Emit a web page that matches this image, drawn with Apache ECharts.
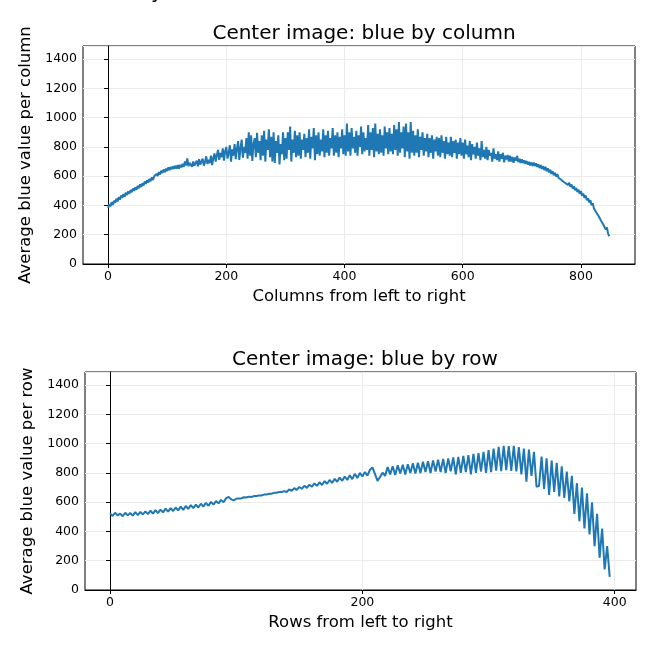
<!DOCTYPE html>
<html lang="en">
<head>
  <meta charset="UTF-8">
  <title>Center image: blue</title>
  <script src="https://cdn.jsdelivr.net/npm/echarts@6/dist/echarts.min.js"></script>
  <style>
    html, body { margin: 0; padding: 0; background: #fff; }
  </style>
</head>
<body>
<div id="chart" style="width: 656px;height: 654px;"></div>

<script>
  // average blue per column, read every 2 columns (0..848)
  const colStep = 2;
  const colValues = [
    382, 408, 394, 422, 404, 432, 418, 446, 428, 456,
    440, 468, 452, 478, 460, 488, 472, 496, 480, 506,
    490, 516, 500, 524, 508, 534, 518, 544, 526, 552,
    536, 564, 548, 572, 556, 582, 566, 592, 574, 600,
    592, 616, 602, 628, 612, 638, 622, 646, 628, 652,
    636, 660, 642, 664, 648, 668, 650, 672, 652, 676,
    652, 678, 660, 684, 664, 700, 674, 722, 668, 692,
    692, 664, 700, 672, 684, 706, 668, 716, 680, 698,
    720, 672, 698, 736, 684, 712, 690, 740, 676, 724,
    756, 700, 744, 780, 712, 760, 730, 790, 706, 770,
    800, 720, 760, 812, 700, 784, 740, 820, 716, 790,
    840, 712, 790, 850, 726, 800, 760, 860, 720, 900,
    740, 880, 704, 820, 860, 730, 896, 760, 840, 710,
    880, 740, 910, 700, 850, 780, 920, 730, 870, 700,
    900, 690, 840, 760, 880, 680, 820, 750, 900, 710,
    860, 720, 900, 780, 940, 700, 850, 760, 910, 730,
    880, 740, 900, 720, 850, 780, 890, 730, 860, 760,
    920, 720, 870, 790, 930, 710, 880, 750, 900, 740,
    850, 770, 920, 730, 880, 760, 910, 740, 860, 790,
    930, 740, 880, 760, 900, 730, 870, 790, 920, 750,
    880, 740, 960, 770, 900, 740, 930, 790, 870, 760,
    910, 740, 880, 800, 940, 750, 900, 770, 860, 780,
    950, 740, 900, 780, 930, 730, 960, 770, 890, 750,
    920, 760, 880, 740, 940, 790, 900, 750, 930, 770,
    890, 750, 950, 780, 920, 740, 970, 760, 900, 790,
    940, 730, 960, 770, 900, 720, 970, 760, 910, 740,
    880, 760, 920, 730, 870, 780, 900, 740, 860, 770,
    890, 730, 860, 760, 880, 720, 850, 770, 870, 740,
    860, 730, 880, 760, 840, 720, 870, 750, 830, 740,
    870, 730, 840, 760, 850, 720, 830, 750, 860, 740,
    830, 720, 850, 750, 810, 730, 840, 710, 820, 750,
    800, 720, 830, 740, 790, 710, 840, 730, 780, 720,
    800, 710, 780, 740, 760, 700, 790, 720, 750, 710,
    770, 700, 750, 720, 760, 695, 740, 715, 745, 700,
    740, 700, 732, 692, 728, 706, 738, 696, 720, 690,
    716, 690, 708, 684, 704, 680, 698, 674, 694, 670,
    694, 670, 688, 664, 682, 656, 676, 650, 668, 642,
    664, 634, 654, 626, 644, 616, 634, 606, 624, 598,
    614, 590, 600, 578, 590, 564, 574, 552, 564, 540,
    556, 528, 544, 516, 532, 504, 520, 492, 508, 480,
    498, 466, 482, 452, 468, 436, 450, 420, 436, 402,
    416, 380, 390, 352, 364, 326, 338, 296, 308, 268,
    280, 236, 250, 206, 190
  ];

  // average blue per row, read every 2 rows (0..396)
  const rowStep = 2;
  const rowValues = [
    524, 506, 528, 510, 522, 504, 528, 510, 526, 508,
    532, 512, 534, 516, 538, 518, 542, 522, 546, 526,
    550, 530, 556, 536, 560, 540, 564, 544, 570, 548,
    574, 554, 580, 560, 584, 564, 590, 570, 596, 576,
    602, 584, 608, 592, 616, 600, 628, 636, 620, 612,
    624, 626, 626, 634, 632, 638, 636, 642, 642, 646,
    646, 652, 652, 658, 658, 664, 664, 670, 670, 676,
    670, 688, 678, 696, 684, 704, 692, 712, 698, 720,
    706, 728, 712, 736, 718, 744, 726, 752, 732, 760,
    740, 768, 746, 776, 752, 784, 758, 794, 766, 800,
    776, 806, 782, 822, 838, 792, 746, 772, 802, 780,
    840, 790, 846, 786, 852, 796, 856, 790, 860, 800,
    866, 796, 870, 800, 876, 806, 880, 800, 886, 810,
    890, 806, 896, 800, 900, 812, 906, 790, 910, 800,
    916, 806, 922, 790, 930, 800, 936, 810, 944, 800,
    956, 806, 966, 816, 978, 812, 986, 820, 984, 814,
    986, 810, 976, 790, 966, 740, 960, 780, 944, 706,
    712, 912, 690, 900, 650, 884, 670, 870, 640, 846,
    630, 810, 605, 780, 520, 730, 470, 700, 420, 660,
    380, 600, 300, 520, 220, 420, 140, 300, 90
  ];

  const colTicks = [0, 200, 400, 600, 800];
  const rowTicks = [0, 200, 400];

  const colData = colValues.map((v, i) => [i * colStep, v]);
  const rowData = rowValues.map((v, i) => [i * rowStep, v]);

  const font = 'DejaVu Sans';
  const gridColor = '#ebebeb';

  function xAxisFor(gridIndex, min, max, ticks, name) {
    return {
      type: 'value', gridIndex: gridIndex, min: min, max: max,
      name: name, nameLocation: 'middle', nameGap: 24,
      nameTextStyle: { fontFamily: font, fontSize: 16.5, color: '#000' },
      axisLine: { show: true, onZero: false, lineStyle: { color: '#000', width: 1 } },
      axisTick: { show: true, length: 4, customValues: ticks, lineStyle: { color: '#000' } },
      axisLabel: { customValues: ticks, fontFamily: font, fontSize: 12.5, color: '#000', margin: 6 },
      splitLine: { show: true, lineStyle: { color: gridColor, width: 1 } }
    };
  }

  function yAxisFor(gridIndex, name) {
    return {
      type: 'value', gridIndex: gridIndex, min: 0, max: 1490, interval: 200,
      name: name, nameLocation: 'middle', nameGap: 46,
      nameTextStyle: { fontFamily: font, fontSize: 16.5, color: '#000' },
      axisLine: { show: true, lineStyle: { color: '#000', width: 1 } },
      axisTick: { show: true, length: 4, lineStyle: { color: '#000' } },
      axisLabel: { fontFamily: font, fontSize: 12.5, color: '#000', margin: 6,
        showMaxLabel: false, formatter: v => String(v) },
      splitLine: { show: true, lineStyle: { color: gridColor, width: 1 } }
    };
  }

  const chart = echarts.init(document.getElementById('chart'), null, { renderer: 'canvas' });
  chart.setOption({
    animation: false,
    backgroundColor: '#fff',
    title: [
      { text: 'Center image: blue by column', left: 359, top: 19, textAlign: 'center',
        textStyle: { fontFamily: font, fontSize: 20, fontWeight: 'normal', color: '#000' } },
      { text: 'Center image: blue by row', left: 360, top: 345, textAlign: 'center',
        textStyle: { fontFamily: font, fontSize: 20, fontWeight: 'normal', color: '#000' } }
    ],
    // clipped descender of a figure title above the canvas
    graphic: [
      { type: 'text', left: 151, top: -17, silent: true,
        style: { text: 'y', fontFamily: font, fontSize: 20, fill: '#000' } }
    ],
    grid: [
      { left: 83, right: 21, top: 46, height: 218, show: true, borderColor: '#000', borderWidth: 1 },
      { left: 85, right: 20, top: 372, height: 218, show: true, borderColor: '#000', borderWidth: 1 }
    ],
    xAxis: [
      xAxisFor(0, -42.45, 891.45, colTicks, 'Columns from left to right'),
      xAxisFor(1, -19.85, 416.85, rowTicks, 'Rows from left to right')
    ],
    yAxis: [
      yAxisFor(0, 'Average blue value per column'),
      yAxisFor(1, 'Average blue value per row')
    ],
    series: [
      { type: 'line', xAxisIndex: 0, yAxisIndex: 0, data: colData, showSymbol: false,
        lineStyle: { color: '#1f77b4', width: 2 }, sampling: null },
      { type: 'line', xAxisIndex: 1, yAxisIndex: 1, data: rowData, showSymbol: false,
        lineStyle: { color: '#1f77b4', width: 2 }, sampling: null }
    ]
  });
</script>
</body>
</html>
